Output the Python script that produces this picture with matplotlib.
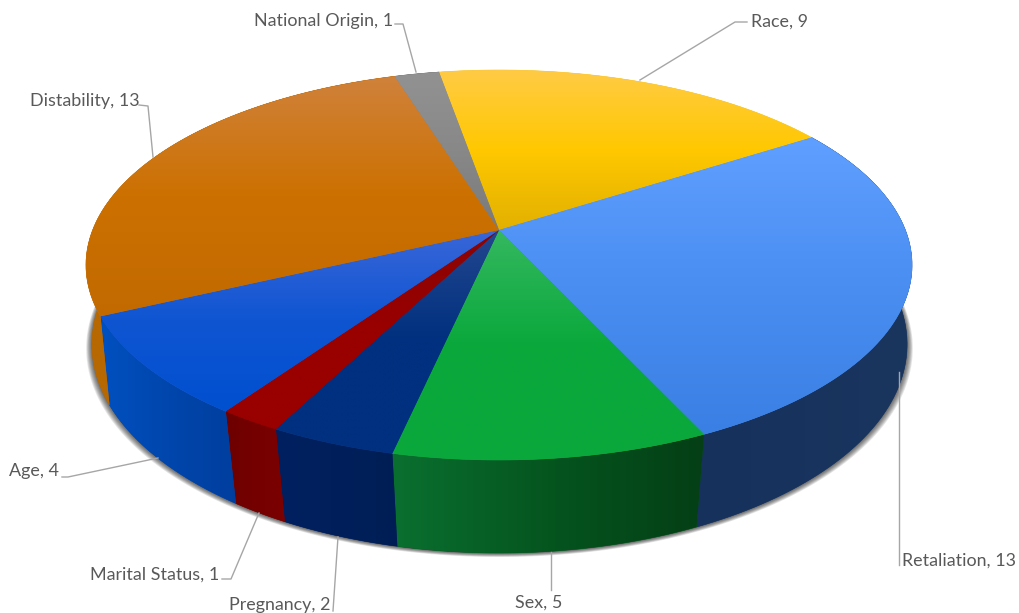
import numpy as np
import matplotlib
matplotlib.use('Agg')
import matplotlib.pyplot as plt
from matplotlib.colors import to_rgb
from matplotlib.patches import Polygon

# slices, clockwise from the back of the pie
names = ['Race', 'Retaliation', 'Sex', 'Pregnancy', 'Marital Status', 'Age', 'Distability', 'National Origin']
values = [9, 13, 5, 2, 1, 4, 13, 1]

# colours top to bottom on the top face, left to right on the side
top_cols = [['#FFCB45', '#FFC800', '#E2B000'],
            ['#5F9FFF', '#4A8EF2', '#3A7FE3'],
            ['#35B860', '#0AA83C', '#0AA83C'],
            ['#24478F', '#00307F', '#00307F'],
            ['#8A0505', '#990000', '#990000'],
            ['#3A66D8', '#0F55D2', '#0050D0'],
            ['#D0823C', '#CC7000', '#C26A00'],
            ['#929292', '#888888', '#7A7A7A']]
side_cols = [['#C79A00', '#C79A00'],
             ['#16315C', '#1A365F'],
             ['#0A7030', '#05551F', '#043F15'],
             ['#002060', '#001E55'],
             ['#6E0000', '#7C0000'],
             ['#0050C0', '#0046AC', '#003E9E'],
             ['#B86800', '#B86800'],
             ['#666666', '#666666']]

# label text, left edge and centre height, in pixels
label_pos = [(751, 22), (902, 561), (515, 603), (229, 605), (90, 575), (9, 471), (30, 101), (254, 21)]
leaders = [[(747, 22), (735, 22), (640, 80)],
           [(899, 565), (899, 372)],
           [(551, 590), (551, 552)],
           [(333, 611), (338, 537)],
           [(222, 579), (231, 579), (259, 513)],
           [(62, 477), (68, 477), (158, 458)],
           [(139, 105), (148, 106), (153, 157)],
           [(395, 24), (403, 24), (416, 72)]]

start = -10.0
cx = 499.0


# perspective of the top and bottom faces
def top_face(a):
    u, v = np.sin(np.radians(a)), -np.cos(np.radians(a))
    w = 1 - 0.1795*v
    return cx + 406.3*u/w, 230 + 188.7*v/w


def bottom_face(a):
    u, v = np.sin(np.radians(a)), -np.cos(np.radians(a))
    w = 1 - 0.15*v
    return cx + 0.5 + 403*u/w, 313 + 204*v/w


def grad_fill(ax, pts, cols, vertical, z):
    pts = np.array(pts)
    rgb = np.array([to_rgb(c) for c in cols])
    t = np.linspace(0, 1, 256)
    pos = np.linspace(0, 1, len(cols))
    line = np.stack([np.interp(t, pos, rgb[:, i]) for i in range(3)], axis=1)
    img = line[:, None, :] if vertical else line[None, :, :]
    x0, y0 = pts.min(axis=0)
    x1, y1 = pts.max(axis=0)
    mean = rgb.mean(axis=0)
    ax.add_patch(Polygon(pts, fc=mean, ec=mean, lw=0.4, zorder=z))
    im = ax.imshow(img, extent=(x0, x1, y1, y0), aspect='auto', zorder=z+0.1, interpolation='bilinear')
    clip = Polygon(pts, fc='none', ec='none', transform=ax.transData)
    ax.add_patch(clip)
    im.set_clip_path(clip)


fig = plt.figure(figsize=(10.2, 6.13), dpi=100)
ax = fig.add_axes([0, 0, 1, 1])
ax.axis('off')

# soft shadow under the pie
full = np.linspace(0, 360, 361)
bx, by = bottom_face(full)
for i in range(8):
    sx = cx + (bx - cx)*(1.014 - 0.002*i)
    sy = by + 4 - 0.5*i
    ax.add_patch(Polygon(np.column_stack([sx, sy]), fc='black', ec='none', alpha=0.1, zorder=1))

edges = start + np.concatenate([[0], np.cumsum(values)])*360.0/sum(values)

for i in range(len(values)):
    arc = np.linspace(edges[i], edges[i+1], 80)
    # side wall
    tx, ty = top_face(arc)
    bx, by = bottom_face(arc)
    wall = np.column_stack([np.r_[tx, bx[::-1]], np.r_[ty, by[::-1]]])
    if arc.max() > 90:
        grad_fill(ax, wall, side_cols[i], False, 2)

for i in range(len(values)):
    arc = np.linspace(edges[i], edges[i+1], 80)
    tx, ty = top_face(arc)
    wedge = np.column_stack([np.r_[cx, tx], np.r_[230, ty]])
    grad_fill(ax, wedge, top_cols[i], True, 3)

for i in range(len(values)):
    ax.text(label_pos[i][0], label_pos[i][1], names[i] + ', ' + str(values[i]), family='Lato',
            fontsize=12.9, color='#595959', ha='left', va='center', zorder=6)
    line = np.array(leaders[i])
    ax.plot(line[:, 0], line[:, 1], color='#A6A6A6', lw=1, zorder=5)

ax.set_xlim(0, 1020)
ax.set_ylim(613, 0)
fig.savefig('out.png', dpi=100, facecolor='white')
